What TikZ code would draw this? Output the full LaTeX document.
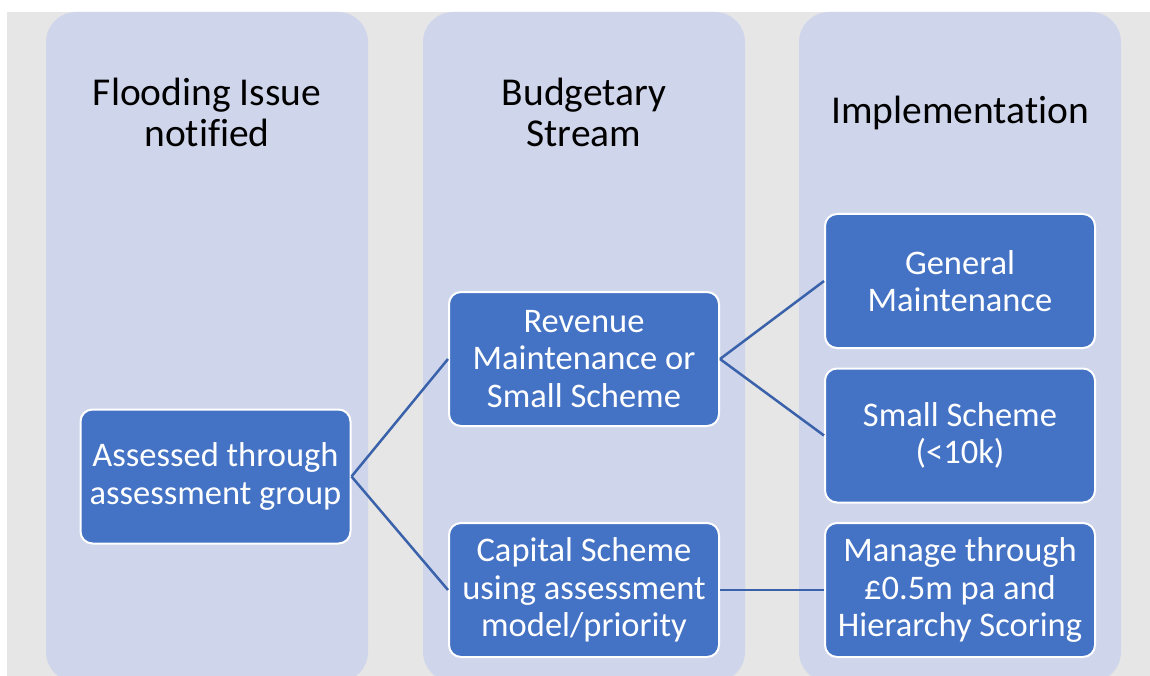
\documentclass[tikz,border=0pt]{standalone}
\usepackage{fontspec}
\setmainfont{Carlito}[Ligatures={NoCommon,NoContextual},RawFeature=-liga,RawFeature=-calt,RawFeature=-clig]
\definecolor{bggray}{HTML}{E7E6E6}
\definecolor{colfill}{HTML}{CFD5EA}
\definecolor{boxblue}{HTML}{4472C4}
\definecolor{lineblue}{HTML}{3A62AB}
\begin{document}
\begin{tikzpicture}[x=1pt,y=-1pt,
  colbg/.style={fill=colfill,draw=none,rounded corners=30pt},
  header/.style={text=black,align=center,font=\fontsize{39.5}{41}\selectfont,inner sep=0pt},
  bluebox/.style={fill=boxblue,draw=white,line width=2pt,rounded corners=12pt,text=white,align=center,
    font=\fontsize{34.5}{37.5}\selectfont,minimum width=270pt,minimum height=134pt,inner sep=0pt},
  conn/.style={draw=lineblue,line width=2.5pt}]
\useasboundingbox (0,0) rectangle (1150,676);
\clip (0,0) rectangle (1150,676);
\fill[white] (0,0) rectangle (1150,676);
\fill[bggray] (7,12) rectangle (1150,676);
\path[colbg] (46,12) rectangle (368,682);
\path[colbg] (423,12) rectangle (745,682);
\path[colbg] (799,12) rectangle (1121,682);
\node[header] (h1) at (207,112) {Flooding Issue\\not\kern0pt if\kern0pt ied};
\node[header] (h2) at (584,112) {Budgetary\\Stream};
\node[header] (h3) at (960,113) {Implementat\kern0pt ion};
\node[bluebox] (assessed) at (215.5,476.5) {Assessed through\\assessment group};
\node[bluebox] (revenue) at (584,359) {Revenue\\Maintenance or\\Small Scheme};
\node[bluebox] (capital) at (584,590) {Capital Scheme\\using assessment\\model/priority};
\node[bluebox] (general) at (960,281) {General\\Maintenance};
\node[bluebox] (small) at (960,435.5) {Small Scheme\\(<10k)};
\node[bluebox] (manage) at (960,590) {Manage through\\£0.5m pa and\\Hierarchy Scoring};
\draw[conn] (assessed.east) -- (revenue.west);
\draw[conn] (assessed.east) -- (capital.west);
\draw[conn] (revenue.east) -- (general.west);
\draw[conn] (revenue.east) -- (small.west);
\draw[conn] (capital.east) -- (manage.west);
\end{tikzpicture}
\end{document}
